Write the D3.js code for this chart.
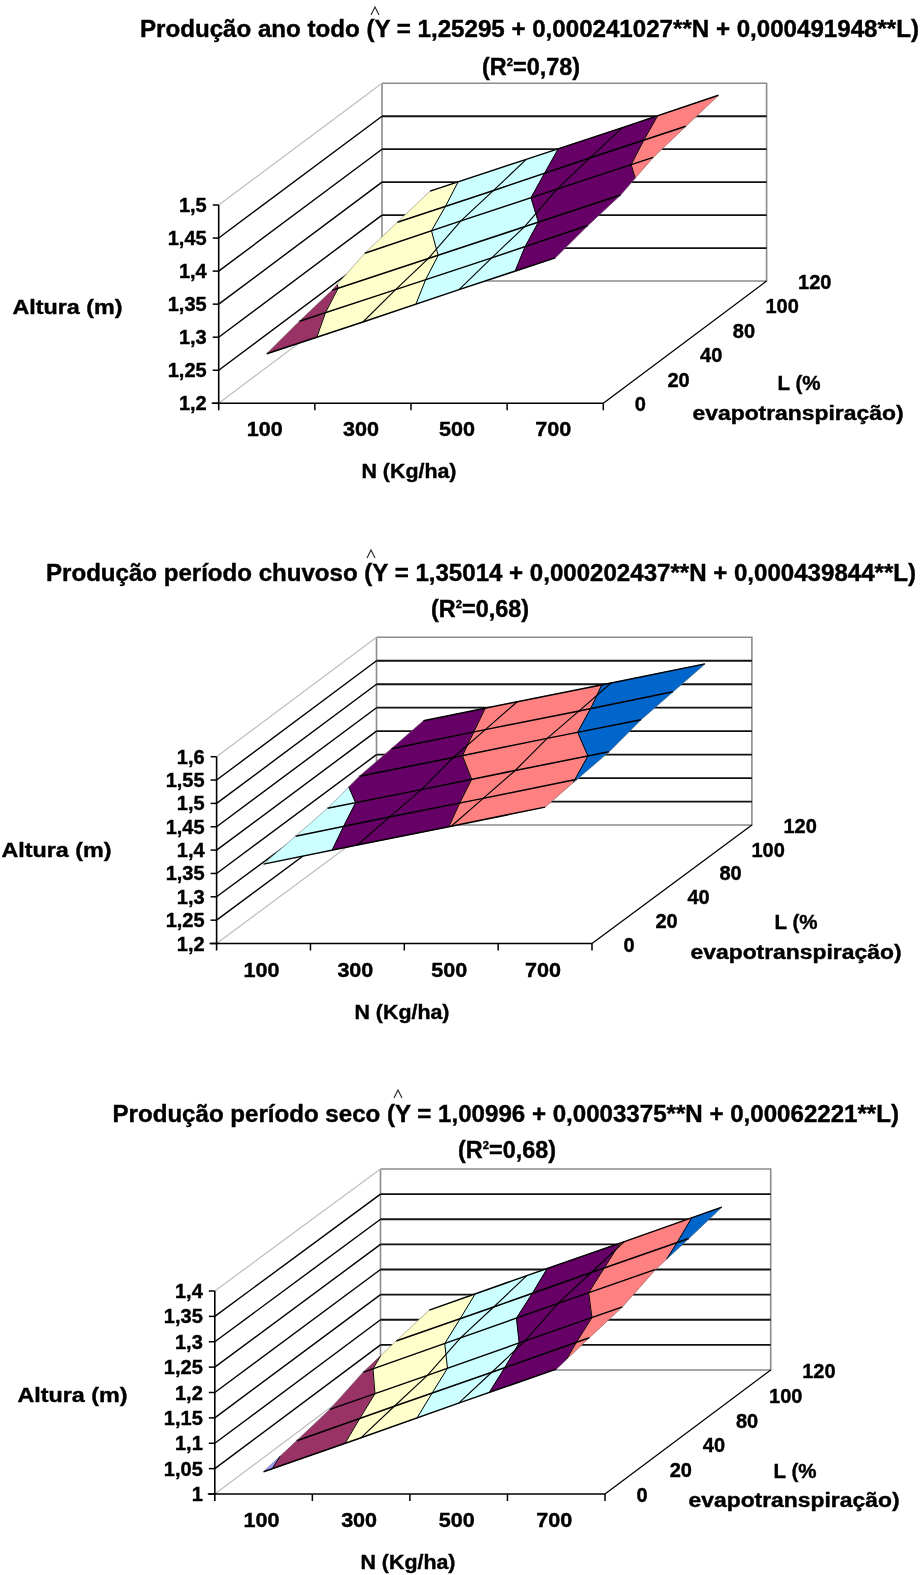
<!DOCTYPE html>
<html><head><meta charset="utf-8">
<style>
html,body{margin:0;padding:0;background:#fff}
svg{display:block;filter:blur(.4px)}
text{font-family:"Liberation Sans",Arial,sans-serif;font-weight:700;fill:#000;stroke:#000;stroke-width:.4px}
</style>
<script src="https://cdn.jsdelivr.net/npm/d3@7"></script>
</head><body>
<script>
// ---- data ----
const nCategories = [100, 300, 500, 700];
const nLabels = ["100", "300", "500", "700"];
const lCategories = [0, 20, 40, 80, 100, 120];
const lLabels = ["0", "20", "40", "80", "100", "120"];

// heights: one row per L category, one value per N category
const heightsAnoTodo = [
  [1.275, 1.323, 1.372, 1.420],
  [1.287, 1.335, 1.383, 1.432],
  [1.297, 1.345, 1.393, 1.441],
  [1.316, 1.365, 1.413, 1.461],
  [1.326, 1.374, 1.423, 1.471],
  [1.336, 1.384, 1.432, 1.481]
];
const heightsChuvoso = [
  [1.370, 1.411, 1.451, 1.492],
  [1.379, 1.420, 1.460, 1.501],
  [1.388, 1.428, 1.469, 1.509],
  [1.406, 1.446, 1.487, 1.527],
  [1.414, 1.455, 1.495, 1.536],
  [1.423, 1.464, 1.504, 1.545]
];
const heightsSeco = [
  [1.044, 1.111, 1.179, 1.246],
  [1.056, 1.124, 1.191, 1.259],
  [1.069, 1.136, 1.204, 1.271],
  [1.093, 1.161, 1.229, 1.296],
  [1.106, 1.173, 1.241, 1.308],
  [1.118, 1.186, 1.253, 1.321]
];
const zTicksAnoTodo = ["1,2", "1,25", "1,3", "1,35", "1,4", "1,45", "1,5"];
const zTicksChuvoso = ["1,2", "1,25", "1,3", "1,35", "1,4", "1,45", "1,5", "1,55", "1,6"];
const zTicksSeco = ["1", "1,05", "1,1", "1,15", "1,2", "1,25", "1,3", "1,35", "1,4"];
const bandColors = ["#9999FF", "#993366", "#FFFFCC", "#CCFFFF", "#660066", "#FF8080", "#0066CC"];
const titleAnoTodo = "Produção ano todo (Y = 1,25295 + 0,000241027**N + 0,000491948**L)";
const titleChuvoso = "Produção período chuvoso (Y = 1,35014 + 0,000202437**N + 0,000439844**L)";
const titleSeco = "Produção período seco (Y = 1,00996 + 0,0003375**N + 0,00062221**L)";
const r2AnoTodo = "0,78", r2Chuvoso = "0,68", r2Seco = "0,68";
const axisN = "N (Kg/ha)", axisZ = "Altura (m)", axisL1 = "L (%", axisL2 = "evapotranspiração)";

// ---- layout ----
const layouts = [
  {heights: heightsAnoTodo, zTicks: zTicksAnoTodo, title: titleAnoTodo, r2: r2AnoTodo,
   fl: [218.7, 403.3], frX: 603.3, backX: 382, backY: 281, wallTop: 83.3, axisTop: 205,
   titleX: [140, 919], titleY: 37, hat: [375, 15], r2X: [482, 580], r2Y: 75,
   nTitle: [409, 478], zTitle: [67.5, 314], lTitle: [799, 390], evap: [798, 420]},
  {heights: heightsChuvoso, zTicks: zTicksChuvoso, title: titleChuvoso, r2: r2Chuvoso,
   fl: [216.6, 943.5], frX: 592, backX: 376.5, backY: 825, wallTop: 637.3, axisTop: 756.7,
   titleX: [46, 916], titleY: 581, hat: [371, 558], r2X: [431, 529], r2Y: 617,
   nTitle: [402, 1019], zTitle: [56.5, 857], lTitle: [796, 929], evap: [796, 959]},
  {heights: heightsSeco, zTicks: zTicksSeco, title: titleSeco, r2: r2Seco,
   fl: [214.8, 1494], frX: 605, backX: 380.5, backY: 1370, wallTop: 1169, axisTop: 1291,
   titleX: [112.5, 899], titleY: 1122, hat: [398, 1098], r2X: [458, 556], r2Y: 1158,
   nTitle: [408, 1569], zTitle: [72.5, 1402], lTitle: [795, 1478], evap: [794, 1507]}
];

const svg = d3.select("body").append("svg").attr("width", 924).attr("height", 1575);
const toNum = s => +s.replace(",", ".");
const line = d3.line();

function clipBand(poly, test, cross) {
  const out = [];
  poly.forEach((a, i) => {
    const b = poly[(i + 1) % poly.length];
    const ia = test(a), ib = test(b);
    if (ia) out.push(a);
    if (ia !== ib) out.push(cross(a, b));
  });
  return out;
}
const at = (a, b, level) => {
  const t = (level - a.z) / (b.z - a.z);
  return {x: a.x + t * (b.x - a.x), y: a.y + t * (b.y - a.y), z: level};
};

function drawChart(c) {
  const g = svg.append("g");
  const zVals = c.zTicks.map(toNum);
  const zMin = zVals[0], zMax = zVals[zVals.length - 1];
  const floorY = c.fl[1], flX = c.fl[0];
  const dX = c.backX - flX, dY = floorY - c.backY;

  const xBand = d3.scaleBand().domain(nCategories).range([flX, c.frX]);
  const depthX = d3.scalePoint().domain(lCategories).range([0, dX]);
  const depthY = d3.scalePoint().domain(lCategories).range([0, dY]);
  const zScale = d3.scaleLinear().domain([zMin, zMax]).range([floorY, c.axisTop]);
  const wallZ = d3.scaleLinear().domain([zMin, zMax]).range([c.backY, c.wallTop]);
  const wallRight = c.backX + c.frX - flX;

  // walls
  const gray = "#8c8c8c", light = "#bdbdbd";
  const seg = (p, col, w) => g.append("path").attr("d", line(p)).attr("fill", "none").attr("stroke", col).attr("stroke-width", w);
  seg([[c.backX, c.wallTop], [wallRight, c.wallTop], [wallRight, c.backY], [c.backX, c.backY], [c.backX, c.wallTop]], gray, 1.6);
  seg([[flX, c.axisTop], [c.backX, c.wallTop]], light, 1.2);
  seg([[flX, floorY], [c.backX, c.backY]], light, 1.2);
  zVals.slice(1, -1).forEach(v => {
    seg([[c.backX, wallZ(v)], [wallRight, wallZ(v)]], "#111", 1.8);
    seg([[flX, zScale(v)], [c.backX, wallZ(v)]], "#000", 1.4);
  });
  seg([[c.frX, floorY], [wallRight, c.backY]], "#000", 1.3);

  // surface
  const pt = (i, j) => {
    const n = nCategories[i], l = lCategories[j], z = c.heights[j][i];
    return {x: xBand(n) + xBand.bandwidth() / 2 + depthX(l), y: zScale(z) - depthY(l), z};
  };
  const surf = g.append("g");
  const contours = [];
  const cells = [];
  d3.range(lCategories.length - 1).forEach(j => d3.range(nCategories.length - 1).forEach(i => {
    cells.push([pt(i, j), pt(i + 1, j), pt(i + 1, j + 1), pt(i, j + 1)]);
  }));
  const step = 0.05;
  cells.forEach(q => {
    bandColors.forEach((col, b) => {
      const lo = zMin + b * step, hi = lo + step;
      let p = clipBand(q, v => v.z >= lo, (u, w) => at(u, w, lo));
      if (p.length) p = clipBand(p, v => v.z <= hi, (u, w) => at(u, w, hi));
      if (p.length > 2) {
        surf.append("path").attr("d", line(p.map(v => [v.x, v.y])) + "Z")
          .attr("fill", col).attr("stroke", col).attr("stroke-width", .6);
      }
    });
    d3.range(bandColors.length + 1).forEach(b => {
      const lev = zMin + b * step;
      const hits = [];
      q.forEach((u, k) => {
        const w = q[(k + 1) % 4];
        if ((u.z < lev) !== (w.z < lev)) hits.push(at(u, w, lev));
      });
      if (hits.length === 2) contours.push(hits);
    });
  });
  contours.forEach(h => surf.append("path").attr("d", line(h.map(v => [v.x, v.y])))
    .attr("fill", "none").attr("stroke", "#000").attr("stroke-width", 1));
  lCategories.forEach((l, j) => {
    surf.append("path").attr("d", line(nCategories.map((n, i) => { const v = pt(i, j); return [v.x, v.y]; })))
      .attr("fill", "none").attr("stroke", "#000").attr("stroke-width", 1.5);
  });
  nCategories.forEach((n, i) => {
    const edge = i === 0 || i === nCategories.length - 1;
    surf.append("path").attr("d", line(lCategories.map((l, j) => { const v = pt(i, j); return [v.x, v.y]; })))
      .attr("fill", "none").attr("stroke", edge ? "#666" : "#000").attr("stroke-width", edge ? .5 : 1.1);
  });

  // front axes
  seg([[flX, c.axisTop], [flX, floorY + 7]], "#000", 1.6);
  seg([[flX - 7, floorY], [c.frX, floorY]], "#000", 1.6);
  zVals.forEach(v => seg([[flX - 6, zScale(v)], [flX, zScale(v)]], "#000", 1.5));
  nCategories.forEach(n => seg([[xBand(n) + xBand.bandwidth(), floorY], [xBand(n) + xBand.bandwidth(), floorY + 7]], "#000", 1.5));

  // tick labels
  const fs = 20;
  const txt = (s, x, y, anchor, len) => {
    const t = g.append("text").attr("x", x).attr("y", y).attr("text-anchor", anchor).attr("font-size", fs).text(s);
    if (len) t.attr("textLength", len).attr("lengthAdjust", "spacingAndGlyphs");
    return t;
  };
  c.zTicks.forEach((s, k) => txt(s, flX - 12, zScale(zVals[k]) + 7, "end"));
  nCategories.forEach((n, k) => txt(nLabels[k], xBand(n) + xBand.bandwidth() / 2 - 2, floorY + 33, "middle", 36));
  lCategories.forEach((l, k) => txt(lLabels[k], c.frX + depthX(l) + 31.5, floorY - depthY(l) + 8, "start"));

  // axis titles
  txt(axisN, c.nTitle[0], c.nTitle[1], "middle", 95);
  txt(axisZ, c.zTitle[0], c.zTitle[1], "middle", 110);
  txt(axisL1, c.lTitle[0], c.lTitle[1], "middle", 43);
  txt(axisL2, c.evap[0], c.evap[1], "middle", 211);

  // titles
  g.append("text").attr("x", c.titleX[0]).attr("y", c.titleY).attr("font-size", 23)
    .attr("textLength", c.titleX[1] - c.titleX[0]).attr("lengthAdjust", "spacingAndGlyphs").text(c.title);
  seg([[c.hat[0] - 4, c.hat[1]], [c.hat[0], c.hat[1] - 8], [c.hat[0] + 4, c.hat[1]]], "#222", 1.1);
  const r = g.append("text").attr("x", c.r2X[0]).attr("y", c.r2Y).attr("font-size", 23)
    .attr("textLength", c.r2X[1] - c.r2X[0]).attr("lengthAdjust", "spacingAndGlyphs");
  r.append("tspan").text("(R");
  r.append("tspan").attr("dy", -9).attr("font-size", 11).text("2");
  r.append("tspan").attr("dy", 9).text("=" + c.r2 + ")");
}
layouts.forEach(drawChart);
</script>
</body></html>
